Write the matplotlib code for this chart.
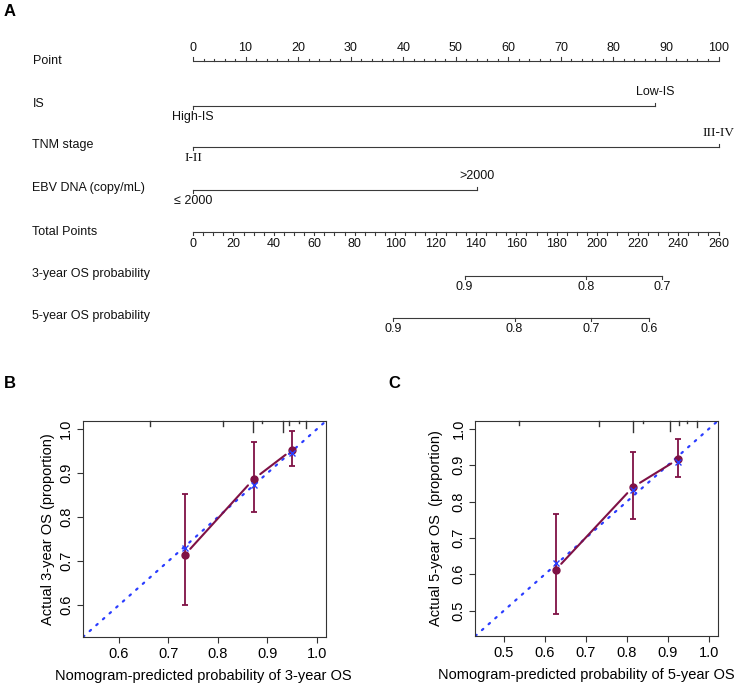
import numpy as np
import matplotlib
matplotlib.use("Agg")
import matplotlib.pyplot as plt
import matplotlib.transforms as mtransforms

plt.rcParams['font.family'] = ['Liberation Sans', 'DejaVu Sans']

# ---------------- data ----------------
point_ticks = list(range(0, 101, 10))
total_point_ticks = list(range(0, 261, 20))
total_max = 260

is_levels = ["High-IS", "Low-IS"]
is_points = [0, 88]
tnm_levels = ["I-II", "III-IV"]
tnm_points = [0, 100]
ebv_levels = ["\u2264 2000", ">2000"]
ebv_points = [0, 54]

os3_probs = [0.9, 0.8, 0.7]
os3_total = [134.4, 194.3, 232.1]
os5_probs = [0.9, 0.8, 0.7, 0.6]
os5_total = [99.0, 159.1, 196.8, 225.7]

# calibration B (3-year)
b_pred = [0.733, 0.872, 0.950]
b_obs = [0.714, 0.886, 0.953]
b_lo = [0.600, 0.812, 0.917]
b_hi = [0.853, 0.970, 0.995]
b_corr = [0.730, 0.872, 0.945]
b_rug_x = [0.663, 0.810, 0.871, 0.889, 0.931, 0.943, 0.963, 0.978]
b_rug_f = [5, 5, 11, 2, 11, 4, 2, 7]

# calibration C (5-year)
c_pred = [0.626, 0.815, 0.926]
c_obs = [0.612, 0.840, 0.917]
c_lo = [0.490, 0.752, 0.868]
c_hi = [0.766, 0.938, 0.972]
c_corr = [0.631, 0.833, 0.910]
c_rug_x = [0.536, 0.732, 0.814, 0.840, 0.905, 0.928, 0.946, 0.972]
c_rug_f = [4, 5, 11, 2, 10, 4, 2, 6]

W, H = 734, 683
fig = plt.figure(figsize=(W / 100, H / 100), dpi=100)

# ---------------- panel A: nomogram ----------------
axA = fig.add_axes([0, 0, 1, 1])
axA.set_axis_off()
px0, px100 = 193.0, 718.5
scale = (px100 - px0) / 100.0
axA.set_xlim(-px0 / scale, (W - px0) / scale)
axA.set_ylim(H, 0)

lc = '#3a3a3a'
lw = 0.8
fs = 9
label_x = (32.5 - px0) / scale

def row_label(y, text):
    axA.text(label_x, y, text, ha='left', va='center', fontsize=fs, color='#111111')

# Point axis
yP = 61
row_label(yP, "Point")
axA.plot([0, 100], [yP, yP], color=lc, lw=lw, solid_capstyle='butt')
for v in np.arange(0, 101, 2):
    major = (v % 10 == 0)
    axA.plot([v, v], [yP, yP - (4 if major else 2)], color=lc, lw=lw)
for v in point_ticks:
    axA.text(v, yP - 13, str(v), ha='center', va='center', fontsize=fs, color='#111111')

# Categorical rows
def cat_row(y, label, levels, pts, fonts=None, size=fs):
    row_label(y - 2, label)
    axA.plot([min(pts), max(pts)], [y, y], color=lc, lw=lw)
    for i, (lev, p) in enumerate(zip(levels, pts)):
        up = (i == 1)
        axA.plot([p, p], [y, y + (-3 if up else 3)], color=lc, lw=lw)
        ty = y - 14 if up else y + 11
        kw = dict(ha='center', va='center', fontsize=size, color='#111111')
        if fonts is not None:
            kw['family'] = fonts
        axA.text(p, ty, lev, **kw)

cat_row(106, "IS", is_levels, is_points)
cat_row(147, "TNM stage", tnm_levels, tnm_points, fonts=['Liberation Serif'], size=9.5)
cat_row(190, "EBV DNA (copy/mL)", ebv_levels, ebv_points)

# Total points axis
yT = 232
row_label(yT, "Total Points")
def tp2pt(t):
    return np.asarray(t, dtype=float) * 100.0 / total_max
axA.plot([0, 100], [yT, yT], color=lc, lw=lw)
for v in np.arange(0, total_max + 1, 5):
    major = (v % 20 == 0)
    x = tp2pt(v)
    axA.plot([x, x], [yT, yT + (3 if major else 2.5)], color=lc, lw=lw)
for v in total_point_ticks:
    axA.text(tp2pt(v), yT + 12, str(v), ha='center', va='center', fontsize=fs, color='#111111')

# probability axes
def prob_row(y, label, probs, totals):
    row_label(y - 2, label)
    xs = tp2pt(totals)
    axA.plot([xs.min(), xs.max()], [y, y], color=lc, lw=lw)
    for p, x in zip(probs, xs):
        axA.plot([x, x], [y, y + 3], color=lc, lw=lw)
        axA.text(x, y + 11, f"{p:.1f}", ha='center', va='center', fontsize=fs, color='#111111')

prob_row(276, "3-year OS probability", os3_probs, os3_total)
prob_row(317.5, "5-year OS probability", os5_probs, os5_total)

# ---------------- calibration panels ----------------
red = '#7f1145'
blue = '#2b3dff'

def calib(rect, pred, obs, lo, hi, corr, rug_x, rug_f, lims, ticks, xlabel, ylabel,
          xlabel_pos=0.5, ylabelpad=5):
    ax = fig.add_axes(rect)
    ax.set_xlim(lims)
    ax.set_ylim(lims)
    # ideal line
    ax.plot(lims, lims, color=blue, lw=1.6, linestyle=(0, (0.8, 3.2)), dash_capstyle='round')
    # error bars
    ax.errorbar(pred, obs, yerr=[np.subtract(obs, lo), np.subtract(hi, obs)], fmt='none',
                ecolor=red, elinewidth=1.3, capsize=2.5, capthick=1.3)
    # calibration line with gaps around points
    for i in range(len(pred) - 1):
        ax.annotate('', xy=(pred[i + 1], obs[i + 1]), xytext=(pred[i], obs[i]),
                    arrowprops=dict(arrowstyle='-', color=red, lw=1.5, shrinkA=6, shrinkB=6))
    ax.plot(pred, obs, 'o', color=red, ms=5, zorder=5)
    ax.plot(pred, corr, 'x', color=blue, ms=5, mew=1.0, zorder=6)
    # rug of predictions at top
    trans = mtransforms.blended_transform_factory(ax.transData, ax.transAxes)
    h_px = rect[3] * H
    for x, f in zip(rug_x, rug_f):
        ax.plot([x, x], [1, 1 - f / h_px], color='#333333', lw=1.0, transform=trans, clip_on=False)
    ax.set_xticks(ticks)
    ax.set_yticks(ticks)
    ax.set_xticklabels([f"{t:.1f}" for t in ticks])
    ax.set_yticklabels([f"{t:.1f}" for t in ticks], rotation=90, va='center')
    ax.tick_params(direction='out', length=4, width=0.8, color='#333333', labelsize=10.5, pad=3)
    for s in ax.spines.values():
        s.set_color('#333333')
        s.set_linewidth(0.8)
    ax.set_xlabel(xlabel, fontsize=10.5, labelpad=6)
    ax.xaxis.set_label_coords(xlabel_pos, -0.15)
    ax.set_ylabel(ylabel, fontsize=10.5, labelpad=ylabelpad)
    return ax

calib([83 / W, (H - 637) / H, 243 / W, 216 / H], b_pred, b_obs, b_lo, b_hi, b_corr,
      b_rug_x, b_rug_f, (0.528, 1.018), [0.6, 0.7, 0.8, 0.9, 1.0],
      "Nomogram-predicted probability of 3-year OS", "Actual 3-year OS (proportion)", 0.497, 3)
calib([475.3 / W, (H - 636) / H, 242.4 / W, 215 / H], c_pred, c_obs, c_lo, c_hi, c_corr,
      c_rug_x, c_rug_f, (0.43, 1.022), [0.5, 0.6, 0.7, 0.8, 0.9, 1.0],
      "Nomogram-predicted probability of 5-year OS", "Actual 5-year OS  (proportion)", 0.457, 6)

# panel letters
fig.text(4 / W, 1 - 12 / H, "A", fontsize=12, fontweight='bold', va='center', ha='left')
fig.text(4 / W, 1 - 383 / H, "B", fontsize=12, fontweight='bold', va='center', ha='left')
fig.text(388 / W, 1 - 383 / H, "C", fontsize=12, fontweight='bold', va='center', ha='left')

fig.savefig("out.png", dpi=100)
